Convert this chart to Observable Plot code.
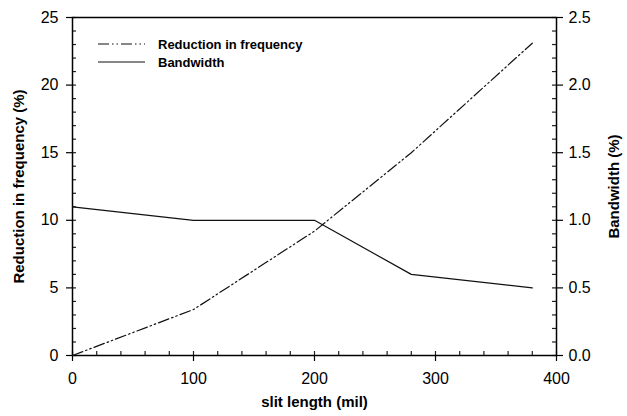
<!DOCTYPE html>
<html><head><meta charset="utf-8">
<script src="https://cdn.jsdelivr.net/npm/d3@7"></script>
<script src="https://cdn.jsdelivr.net/npm/@observablehq/plot@0.6"></script>
<style>
body{margin:0;background:#fff;}
svg{font-family:"Liberation Sans",Arial,sans-serif;}
</style></head><body><div id="chart"></div>
<script>
const slitLength = [0, 100, 200, 280, 380];
const reduction = [0, 3.4, 9.2, 15, 23.1];
const bandwidth = [1.1, 1.0, 1.0, 0.6, 0.5];
const xTicks = [0, 100, 200, 300, 400];
const leftTicks = [0, 5, 10, 15, 20, 25];
const rightTicks = [0.0, 0.5, 1.0, 1.5, 2.0, 2.5];
const xMinorTicks = d3.range(0, 401, 20);
const leftMinorTicks = d3.range(0, 26, 1);
const seriesNames = ["Reduction in frequency", "Bandwidth"];
const xTitle = "slit length (mil)";
const leftTitle = "Reduction in frequency (%)";
const rightTitle = "Bandwidth (%)";
const ratio = 10; // right axis value * ratio = left axis value

const redData = slitLength.map((x, i) => ({x, y: reduction[i]}));
const bwData = slitLength.map((x, i) => ({x, y: bandwidth[i] * ratio}));
const dashPattern = "11,3,1.5,3,1.5,3";

const W = 627, H = 416, mL = 72, mR = 71, mT = 17, mB = 61;
const fw = W - mL - mR, fh = H - mT - mB, minorLen = 4;
const xDom = [0, 400], yDom = [0, 25];
const yMinor = (yDom[1] - yDom[0]) * minorLen / fh;
const xMinor = (xDom[1] - xDom[0]) * minorLen / fw;

const font = "'Liberation Sans', Arial, sans-serif";
const plot = Plot.plot({
  width: W, height: H,
  marginLeft: mL, marginRight: mR, marginTop: mT, marginBottom: mB,
  style: {fontSize: "16px", fontFamily: font, color: "#000", background: "#fff"},
  x: {domain: xDom},
  y: {domain: yDom},
  marks: [
    // minor ticks (inside the frame)
    Plot.ruleX(xMinorTicks, {x: d => d, y1: yDom[0], y2: yDom[0] + yMinor, stroke: "#222", strokeWidth: 1.2}),
    Plot.ruleY(leftMinorTicks, {y: d => d, x1: xDom[0], x2: xDom[0] + xMinor, stroke: "#222", strokeWidth: 1.2}),
    Plot.ruleY(leftMinorTicks, {y: d => d, x1: xDom[1] - xMinor, x2: xDom[1], stroke: "#222", strokeWidth: 1.2}),
    // major ticks + labels
    Plot.axisX({ticks: xTicks, tickSize: 6, tickPadding: 11, label: null, stroke: "#000", strokeWidth: 1.2}),
    Plot.axisY({ticks: leftTicks, tickSize: 6, tickPadding: 8, label: null, stroke: "#000", strokeWidth: 1.2}),
    Plot.axisY({anchor: "right", ticks: rightTicks.map(d => d * ratio), tickFormat: d => (d / ratio).toFixed(1), tickSize: 6, tickPadding: 6, label: null, stroke: "#000", strokeWidth: 1.2}),
    Plot.frame({stroke: "#000", strokeWidth: 1.5}),
    Plot.line(redData, {x: "x", y: "y", stroke: "#111", strokeWidth: 1.2, strokeDasharray: dashPattern}),
    Plot.line(bwData, {x: "x", y: "y", stroke: "#111", strokeWidth: 1.2}),
    Plot.text([xTitle], {frameAnchor: "bottom", dy: 51, textAnchor: "middle", fontWeight: "bold", fontSize: 15, fill: "#000"}),
    Plot.text([leftTitle], {frameAnchor: "left", dx: -53, textAnchor: "middle", rotate: -90, fontWeight: "bold", fontSize: 15, fill: "#000"}),
    Plot.text([rightTitle], {frameAnchor: "right", dx: 58, textAnchor: "middle", rotate: -90, fontWeight: "bold", fontSize: 15, fill: "#000"})
  ]
});
document.getElementById("chart").appendChild(plot);

// legend
const svg = d3.select(plot);
const lg = svg.append("g").attr("font-family", font).attr("font-size", 13)
  .attr("font-weight", "bold").attr("text-anchor", "start");
const legendItems = [{name: seriesNames[0], dash: dashPattern}, {name: seriesNames[1], dash: null}];
legendItems.forEach((it, i) => {
  const y = 44 + i * 18;
  lg.append("line").attr("x1", 98).attr("x2", 145).attr("y1", y).attr("y2", y)
    .attr("stroke", "#111").attr("stroke-width", 1.2).attr("stroke-dasharray", it.dash);
  lg.append("text").attr("x", 158).attr("y", y).attr("dy", "0.35em").attr("fill", "#000").text(it.name);
});
</script></body></html>
